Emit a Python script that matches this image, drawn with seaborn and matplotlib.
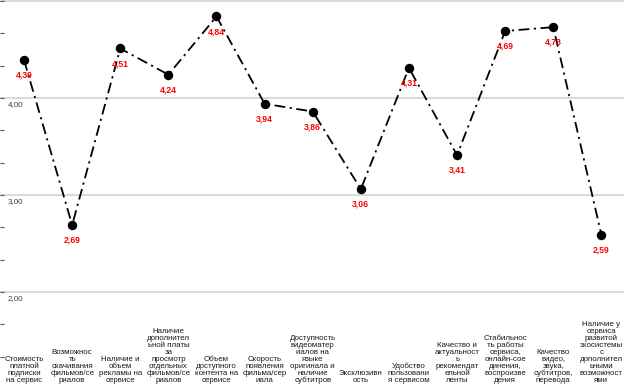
import numpy as np
import pandas as pd
import matplotlib
matplotlib.use("Agg")
import matplotlib.pyplot as plt
import matplotlib.transforms as mtransforms
from matplotlib.ticker import MultipleLocator
import seaborn as sns

# data
categories = [
    "Стоимость\nплатной\nподписки\nна сервис",
    "Возможнос\nть\nскачивания\nфильмов/се\nриалов",
    "Наличие и\nобъем\nрекламы на\nсервисе",
    "Наличие\nдополнител\nьной платы\nза\nпросмотр\nотдельных\nфильмов/се\nриалов",
    "Объем\nдоступного\nконтента на\nсервисе",
    "Скорость\nпоявления\nфильма/сер\nиала",
    "Доступность\nвидеоматер\nиалов на\nязыке\nоригинала и\nналичие\nсубтитров",
    "Эксклюзивн\nость",
    "Удобство\nпользовани\nя сервисом",
    "Качество и\nактуальност\nь\nрекомендат\nельной\nленты",
    "Стабильнос\nть работы\nсервиса,\nонлайн-сое\nдинения,\nвоспроизве\nдения",
    "Качество\nвидео,\nзвука,\nсубтитров,\nперевода",
    "Наличие у\nсервиса\nразвитой\nэкосистемы\nс\nдополнител\nьными\nвозможност\nями",
]
values = [4.39, 2.69, 4.51, 4.24, 4.84, 3.94, 3.86, 3.06, 4.31, 3.41, 4.69, 4.73, 2.59]
ytick_values = [2, 3, 4]
ytick_labels = ["2,00", "3,00", "4,00"]

df = pd.DataFrame({"pos": np.arange(len(values)), "score": values})

sns.set_style("white")
plt.rcParams["font.family"] = ["Liberation Sans", "DejaVu Sans"]

fig = plt.figure(figsize=(6.24, 3.87), dpi=100)
ax = fig.add_axes([0, 0, 1, 1])

# gridlines
for y in [2, 3, 4, 5]:
    ax.axhline(y, color="#d9d9d9", lw=1.4, zorder=0)

sns.lineplot(data=df, x="pos", y="score", ax=ax, color="black",
             lw=1.3, marker="o", markersize=6.8, markeredgewidth=0,
             zorder=3)
ax.lines[-1].set_dashes([6, 2.5, 1.2, 2.5])

# value labels
for i, v in enumerate(values):
    ax.annotate(f"{v:.2f}".replace(".", ","), (i, v), xytext=(0, -11),
                textcoords="offset points", ha="center", va="center",
                color="#ff0000", fontsize=6.2, fontweight="bold", zorder=4)

# category labels at the bottom
for i, c in enumerate(categories):
    ax.text(i, 1.05, c, ha="center", va="bottom", multialignment="center",
            fontsize=5.7, color="#1a1a1a", linespacing=1.0)

ax.set_xlim(-0.5, 12.47)
ax.set_ylim(1.02, 5.01)

# y labels sit inside, just below their gridlines
trans = mtransforms.blended_transform_factory(ax.transAxes, ax.transData)
for y, lab in zip(ytick_values, ytick_labels):
    ax.text(0.012, y - 0.03, lab, transform=trans, ha="left", va="top",
            fontsize=5.8, color="#404040")

ax.set_xticks([])
ax.set_yticks([])
ax.yaxis.set_minor_locator(MultipleLocator(1 / 3))
ax.tick_params(axis="y", which="minor", direction="in", length=3,
               width=0.8, color="#595959", left=True)
for s in ax.spines.values():
    s.set_visible(False)
ax.set_xlabel("")
ax.set_ylabel("")

fig.savefig("out.png", dpi=100)
